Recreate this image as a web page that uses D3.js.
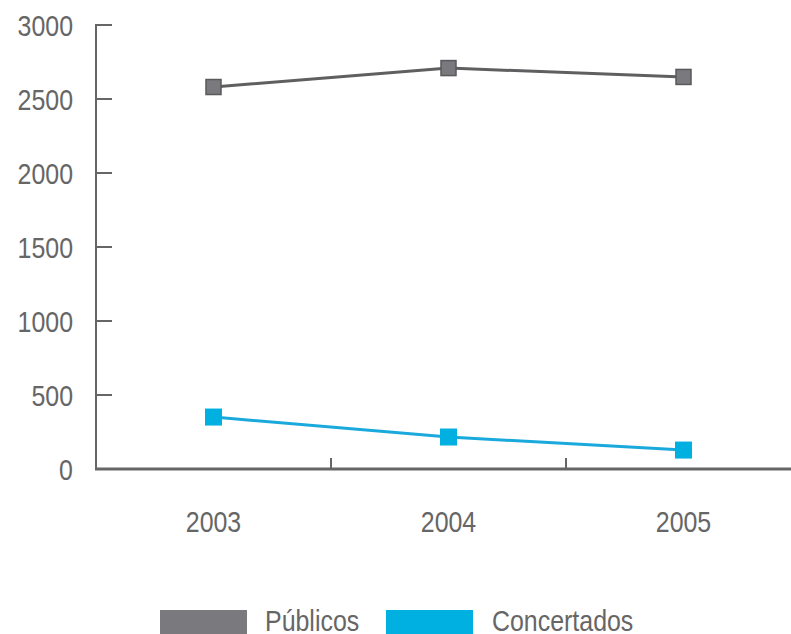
<!DOCTYPE html>
<html>
<head>
<meta charset="utf-8">
<script src="https://cdn.jsdelivr.net/npm/d3@7"></script>
<style>
  body { margin: 0; background: #fff; }
  text { font-family: "Liberation Sans", Arial, sans-serif; fill: #666; }
</style>
</head>
<body>
<svg width="791" height="634"></svg>
<script>
// data
var years = ["2003", "2004", "2005"];
var publicos = [2581, 2709, 2649];
var concertados = [351, 216, 128];
var yTicks = [0, 500, 1000, 1500, 2000, 2500, 3000];
var seriesNames = ["Públicos", "Concertados"];

var svg = d3.select("svg");

var axisColor = "#666",
    lineColors = ["#5f5f61", "#1aa9dc"],
    fillColors = ["#7a7a7e", "#00b0e0"],
    squeeze = 0.86; // font looks condensed in the original

// scales
var x = d3.scaleBand().domain(years).range([96, 801]);
var y = d3.scaleLinear().domain([0, 3000]).range([469, 25]);

function place(px, py) {
  return "translate(" + px + "," + py + ") scale(" + squeeze + ",1)";
}

// y axis
var gy = svg.append("g");
gy.append("line")
    .attr("x1", 96).attr("x2", 96)
    .attr("y1", y(3000) - 1).attr("y2", y(0))
    .attr("stroke", axisColor).attr("stroke-width", 2);
gy.selectAll(".tick").data(yTicks).enter().append("line")
    .attr("x1", 96).attr("x2", 112)
    .attr("y1", function(d) { return y(d); })
    .attr("y2", function(d) { return y(d); })
    .attr("stroke", axisColor).attr("stroke-width", 2);
gy.selectAll("text").data(yTicks).enter().append("text")
    .attr("transform", function(d) { return place(73, y(d) + 11); })
    .attr("text-anchor", "end")
    .attr("font-size", 29)
    .text(function(d) { return d; });

// x axis
var gx = svg.append("g");
gx.append("line")
    .attr("x1", 95).attr("x2", 791)
    .attr("y1", y(0)).attr("y2", y(0))
    .attr("stroke", axisColor).attr("stroke-width", 3);
gx.selectAll(".tick").data(years.slice(1)).enter().append("line")
    .attr("x1", function(d) { return x(d); })
    .attr("x2", function(d) { return x(d); })
    .attr("y1", y(0)).attr("y2", y(0) - 11)
    .attr("stroke", axisColor).attr("stroke-width", 2);
gx.selectAll("text").data(years).enter().append("text")
    .attr("transform", function(d) { return place(x(d) + x.bandwidth() / 2, 532); })
    .attr("text-anchor", "middle")
    .attr("font-size", 29)
    .text(function(d) { return d; });

// lines
var line = d3.line()
    .x(function(d, i) { return x(years[i]) + x.bandwidth() / 2; })
    .y(function(d) { return y(d); });

[publicos, concertados].forEach(function(vals, s) {
  svg.append("path")
      .datum(vals)
      .attr("d", line)
      .attr("fill", "none")
      .attr("stroke", lineColors[s])
      .attr("stroke-width", 3);
  var size = s === 0 ? 15 : 17;
  svg.selectAll(".m" + s).data(vals).enter().append("rect")
      .attr("x", function(d, i) { return x(years[i]) + x.bandwidth() / 2 - size / 2; })
      .attr("y", function(d) { return y(d) - size / 2; })
      .attr("width", size).attr("height", size)
      .attr("fill", fillColors[s])
      .attr("stroke", s === 0 ? "#5a5a5c" : "none")
      .attr("stroke-width", 1.5);
});

// legend
var legX = [160, 386], textX = [265, 492];
seriesNames.forEach(function(name, i) {
  svg.append("rect")
      .attr("x", legX[i]).attr("y", 610)
      .attr("width", 87).attr("height", 24)
      .attr("fill", fillColors[i]);
  svg.append("text")
      .attr("transform", place(textX[i], 631))
      .attr("font-size", 29)
      .text(name);
});
</script>
</body>
</html>
